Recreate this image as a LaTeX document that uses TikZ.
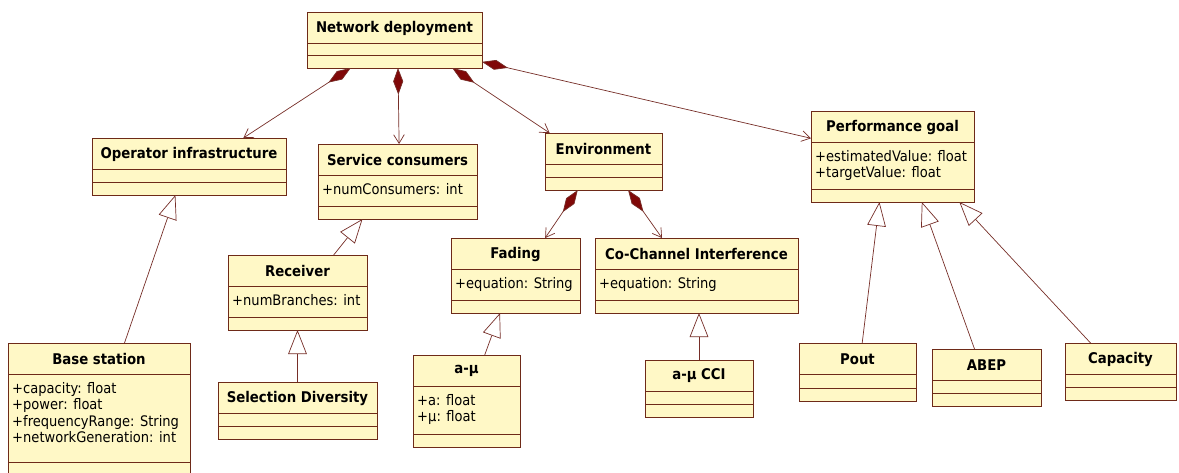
\documentclass[tikz,border=0pt]{standalone}
\usepackage{fontspec}
\setmainfont{DejaVu Sans Condensed}
\usetikzlibrary{arrows.meta,calc,fit}

\definecolor{classfill}{RGB}{255,248,198}
\definecolor{classline}{RGB}{110,42,24}
\definecolor{linkline}{RGB}{118,46,40}
\definecolor{diamondred}{RGB}{128,8,8}

% one UML class: name, top left, bottom right, title, attributes
\newcommand{\umlclass}[5]{%
  \node[classbox, fit={#2 #3}] (#1) {};
  \draw[classline] ($(#1.north west)+(0,31)$) -- ($(#1.north east)+(0,31)$);
  \draw[classline] ($(#1.south west)+(0,-13)$) -- ($(#1.south east)+(0,-13)$);
  \node[classtitle] (#1-name) at ($(#1.north)+(0,16)$) {#4};
  \node[classattr] (#1-attr) at ($(#1.north west)+(4,39)$) {#5};
}

\begin{document}
\begin{tikzpicture}[
    x=0.03cm, y=-0.03cm,
    classbox/.style={rectangle, draw=classline, fill=classfill, line width=0.8pt, inner sep=0pt, outer sep=0pt},
    classline/.style={draw=classline, line width=0.8pt},
    classtitle/.style={inner sep=0pt, font=\fontsize{12.6}{14}\selectfont\bfseries},
    classattr/.style={anchor=north west, align=left, inner sep=0pt, font=\fontsize{12.4}{14}\selectfont},
    compo/.style={draw=linkline, line width=0.6pt, arrows={Diamond[length=8mm, width=3mm, fill=diamondred]-Straight Barb[length=2.6mm, width=3.2mm]}},
    gener/.style={draw=linkline, line width=0.6pt, arrows={-Triangle[length=7.2mm, width=5.6mm, fill=white]}}
]
\useasboundingbox (0,0) rectangle (1179,472);

\umlclass{nd}{(307,12)}{(482,68)}{Network deployment}{}
\umlclass{oi}{(92,138)}{(286,195)}{Operator infrastructure}{}
\umlclass{sc}{(318,144)}{(477,219)}{Service consumers}{+numConsumers: int}
\umlclass{env}{(545,133)}{(662,190)}{Environment}{}
\umlclass{pg}{(811,111)}{(974,202)}{Performance goal}{+estimatedValue: float\\+targetValue: float}

\umlclass{bs}{(8,343)}{(190,475)}{Base station}{+capacity: float\\+power: float\\+frequencyRange: String\\+networkGeneration: int}
\umlclass{rc}{(228,255)}{(367,330)}{Receiver}{+numBranches: int}
\umlclass{sd}{(218,382)}{(377,439)}{Selection Diversity}{}
\umlclass{fa}{(451,238)}{(580,313)}{Fading}{+equation: String}
\umlclass{cci}{(595,238)}{(798,313)}{Co-Channel Interference}{+equation: String}
\umlclass{amu}{(413,355)}{(520,447)}{a-μ}{+a: float\\+μ: float}
\umlclass{amucci}{(645,360)}{(753,417)}{a-μ CCI}{}

\umlclass{pout}{(799,343)}{(916,401)}{Pout}{}
\umlclass{abep}{(932,349)}{(1041,406)}{ABEP}{}
\umlclass{cap}{(1065,343)}{(1176,400)}{Capacity}{}

% composition
\draw[compo] ($(nd.south west)!0.25!(nd.south east)$) -- ($(oi.north west)!0.78!(oi.north east)$);
\draw[compo] ($(nd.south west)!0.52!(nd.south east)$) -- ($(sc.north west)!0.51!(sc.north east)$);
\draw[compo] ($(nd.south west)!0.83!(nd.south east)$) -- ($(env.north west)!0.04!(env.north east)$);
\draw[compo] ($(nd.north east)!0.89!(nd.south east)$) -- ($(pg.north west)!0.30!(pg.south west)$);
\draw[compo] ($(env.south west)!0.28!(env.south east)$) -- ($(fa.north west)!0.73!(fa.north east)$);
\draw[compo] ($(env.south west)!0.71!(env.south east)$) -- ($(cci.north west)!0.33!(cci.north east)$);

% generalization
\draw[gener] ($(bs.north west)!0.64!(bs.north east)$) -- ($(oi.south west)!0.43!(oi.south east)$);
\draw[gener] ($(rc.north west)!0.76!(rc.north east)$) -- ($(sc.south west)!0.28!(sc.south east)$);
\draw[gener] (sd.north) -- (sd.north |- rc.south);
\draw[gener] ($(amu.north west)!0.67!(amu.north east)$) -- ($(fa.south west)!0.38!(fa.south east)$);
\draw[gener] (amucci.north) -- (amucci.north |- cci.south);
\draw[gener] ($(pout.north west)!0.54!(pout.north east)$) -- ($(pg.south west)!0.42!(pg.south east)$);
\draw[gener] ($(abep.north west)!0.39!(abep.north east)$) -- ($(pg.south west)!0.68!(pg.south east)$);
\draw[gener] ($(cap.north west)!0.23!(cap.north east)$) -- ($(pg.south west)!0.91!(pg.south east)$);
\end{tikzpicture}
\end{document}
